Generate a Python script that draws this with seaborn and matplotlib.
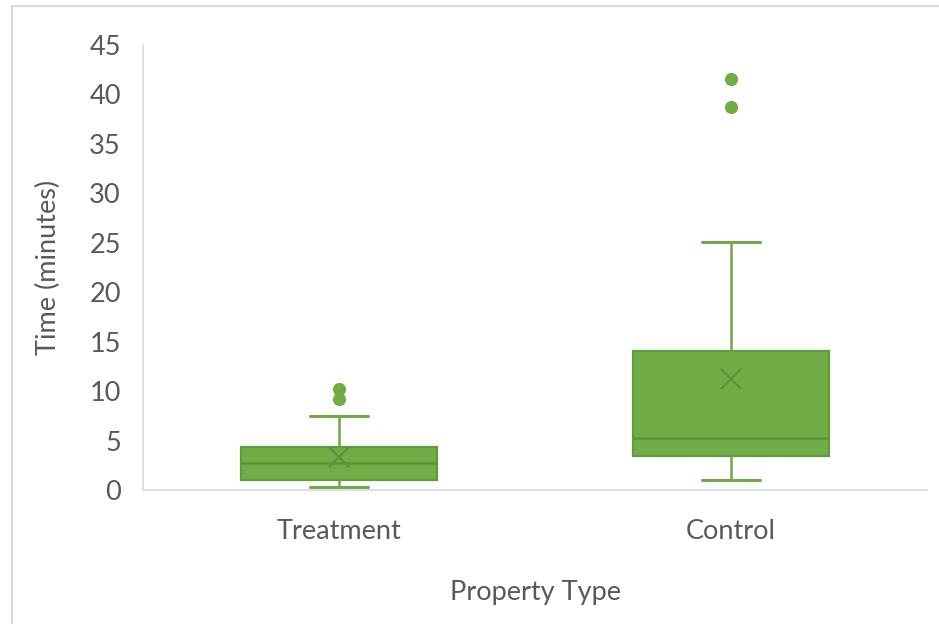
import pandas as pd
import matplotlib.pyplot as plt
import matplotlib.patches as patches
import seaborn as sns

# Values (minutes)
treatment_times = [0.3, 0.4, 0.5, 0.8, 1.0, 1.2, 1.5, 2.0, 2.7,
                   2.8, 3.0, 3.5, 4.3, 5.0, 7.5, 9.2, 10.2]
control_times = [1.0, 1.8, 2.5, 3.0, 3.4, 3.8, 4.2, 4.8, 5.3,
                 6.0, 7.6, 9.5, 14.1, 18.0, 25.1, 38.7, 41.6]
groups = ["Treatment", "Control"]
y_ticks = [0, 5, 10, 15, 20, 25, 30, 35, 40, 45]

df = pd.DataFrame({
    "Property Type": [groups[0]] * len(treatment_times) + [groups[1]] * len(control_times),
    "Time (minutes)": treatment_times + control_times,
})

green = "#70AD47"
edge = "#5E9B3A"
text_gray = "#595959"

sns.set_style("white")
plt.rcParams["font.family"] = ["Lato", "DejaVu Sans"]

fig = plt.figure(figsize=(9.39, 6.24), dpi=100)
ax = fig.add_axes([143 / 939, 134 / 624, 784 / 939, 445 / 624])

sns.boxplot(
    data=df, x="Property Type", y="Time (minutes)", order=groups,
    color=green, width=0.5, whis=1.4, showmeans=True, ax=ax,
    linecolor=edge, linewidth=1.6, saturation=1, capwidths=0.15,
    boxprops=dict(facecolor=green, edgecolor=edge),
    whiskerprops=dict(color="#6FA94A", linewidth=1.8),
    capprops=dict(color="#6FA94A", linewidth=2.2),
    medianprops=dict(color="#5A9438", linewidth=1.8),
    meanprops=dict(marker="x", markersize=15, markeredgecolor="#5A9438",
                   markeredgewidth=1.6),
    flierprops=dict(marker="o", markersize=8.5, markerfacecolor=green,
                    markeredgecolor=green),
)

ax.set_ylim(0, 45)
ax.set_xlim(-0.5, 1.5)
ax.set_yticks(y_ticks)
ax.tick_params(axis="both", length=0, labelsize=19.5, labelcolor=text_gray)
ax.tick_params(axis="y", pad=16)
ax.tick_params(axis="x", pad=21)
ax.set_ylabel("Time (minutes)", fontsize=19.5, color=text_gray, labelpad=20)
ax.set_xlabel("Property Type", fontsize=19.5, color=text_gray, labelpad=26)

for side in ["top", "right"]:
    ax.spines[side].set_visible(False)
for side in ["left", "bottom"]:
    ax.spines[side].set_color("#D9D9D9")
    ax.spines[side].set_linewidth(1.2)
ax.grid(False)

# light chart-area border like the source
fig.patches.append(patches.Rectangle((12 / 939, -0.05), 1.0, 1 - 6 / 624 + 0.05,
                                     transform=fig.transFigure, fill=False,
                                     edgecolor="#D9D9D9", linewidth=1.5))

fig.savefig("out.png", dpi=100)
